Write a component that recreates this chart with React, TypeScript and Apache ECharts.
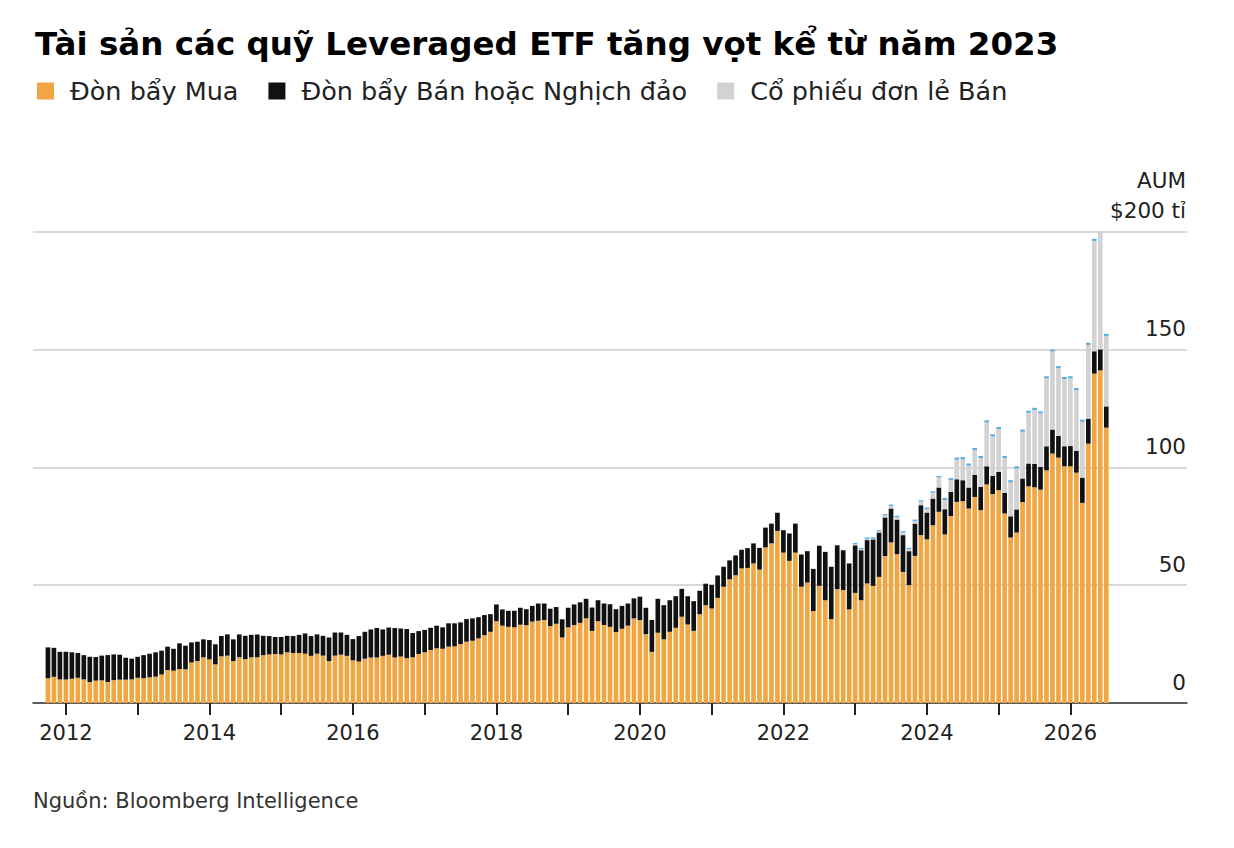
import React, { useEffect, useRef } from "react";
import * as echarts from "echarts";

// Monthly categories: Aug 2011 .. Aug 2027 (bars run Oct 2011 .. Jul 2026)
const START_YEAR = 2011;
const START_MONTH = 8;
const MONTH_COUNT = 193;
const LEAD_EMPTY = 2; // Aug, Sep 2011

const months: string[] = [];
for (let i = 0; i < MONTH_COUNT; i++) {
  const m0 = START_MONTH - 1 + i;
  const y = START_YEAR + Math.floor(m0 / 12);
  const m = (m0 % 12) + 1;
  months.push(`${y}-${m < 10 ? "0" + m : m}`);
}

// Đòn bẩy Mua (leveraged long), $bn, Oct 2011 .. Jul 2026
const leveragedLong: number[] = [
  10.5, 11.1, 10.0, // 2011 Oct-Dec
  10.0, 10.3, 10.7, 10.0, 8.9, 9.5, 9.6, 8.9, 9.7, 9.9, 9.9, 10.0, // 2012
  10.7, 10.5, 10.9, 11.2, 12.1, 14.0, 13.7, 14.4, 14.3, 17.2, 17.8, 19.4, // 2013
  18.5, 16.4, 19.8, 20.1, 17.8, 19.4, 18.6, 19.4, 19.4, 20.3, 20.6, 20.8, // 2014
  20.6, 21.5, 21.2, 21.2, 20.9, 20.0, 20.9, 20.1, 17.8, 20.1, 20.5, 20.0, // 2015
  18.1, 17.6, 18.8, 19.3, 19.3, 20.0, 20.5, 19.3, 19.7, 19.0, 19.4, 20.8, // 2016
  21.5, 22.5, 23.2, 23.0, 23.9, 24.0, 25.0, 26.0, 26.4, 27.4, 28.8, 30.2, // 2017
  34.7, 32.8, 32.3, 32.1, 33.2, 33.0, 34.5, 34.9, 35.2, 32.6, 33.6, 27.8, // 2018
  32.1, 33.1, 34.0, 35.9, 30.6, 34.7, 33.1, 32.3, 30.1, 31.5, 32.8, 35.9, // 2019
  35.2, 29.2, 21.7, 29.8, 27.0, 30.2, 31.9, 36.6, 33.3, 30.6, 37.7, 41.5, // 2020
  40.1, 44.6, 49.3, 52.5, 54.2, 57.1, 57.3, 59.2, 56.6, 66.0, 67.7, 73.0, // 2021
  63.8, 60.3, 63.8, 49.3, 51.1, 39.0, 49.7, 43.6, 35.6, 48.3, 47.9, 39.7, // 2022
  46.7, 43.6, 50.7, 49.7, 53.5, 62.3, 68.1, 63.1, 55.6, 50.0, 62.4, 71.2, // 2023
  69.4, 75.4, 81.1, 71.5, 79.3, 85.3, 85.6, 82.5, 87.4, 81.8, 92.7, 88.6, // 2024
  90.3, 80.4, 70.2, 72.3, 85.3, 91.9, 91.5, 90.5, 98.7, 105.8, 104.1, 100.4, // 2025
  100.4, 97.7, 84.9, 110.0, 139.7, 141.1, 116.8, // 2026 Jan-Jul
];

// Đòn bẩy Bán hoặc Nghịch đảo (leveraged short / inverse), Oct 2011 .. Jul 2026
const leveragedShort: number[] = [
  13.1, 12.3, 11.7,
  11.7, 11.2, 10.5, 10.3, 10.7, 10.0, 10.5, 11.4, 10.9, 10.6, 9.3, 8.8,
  8.9, 9.8, 10.0, 10.3, 10.1, 9.9, 9.3, 10.9, 10.0, 8.5, 8.2, 7.6,
  8.2, 8.5, 8.6, 9.0, 9.2, 9.7, 9.9, 9.5, 9.7, 8.2, 7.8, 7.2,
  7.4, 7.0, 7.2, 7.7, 8.6, 8.4, 8.2, 8.4, 10.0, 9.8, 9.4, 8.9,
  9.0, 10.8, 11.4, 11.9, 12.5, 11.2, 11.5, 12.5, 11.9, 12.4, 10.3, 9.7,
  9.5, 9.4, 9.6, 9.1, 9.9, 9.8, 9.2, 9.6, 9.5, 9.0, 8.5, 7.5,
  7.1, 6.9, 6.8, 7.0, 7.2, 6.8, 6.7, 7.3, 7.0, 7.4, 7.1, 7.7,
  8.3, 8.7, 8.7, 8.3, 9.9, 8.9, 9.1, 9.6, 9.7, 9.7, 9.4, 8.5,
  9.9, 11.2, 13.5, 14.4, 14.5, 13.4, 13.4, 11.8, 12.0, 12.6, 9.9, 9.1,
  10.0, 9.5, 8.5, 8.0, 8.4, 7.9, 8.4, 8.5, 9.2, 8.4, 8.4, 7.7,
  9.5, 11.6, 12.3, 13.7, 13.3, 17.9, 17.0, 20.5, 22.2, 18.6, 16.9, 19.5,
  20.2, 21.2, 18.4, 19.7, 18.8, 16.4, 14.4, 14.7, 15.6, 14.4, 13.7, 12.7,
  11.4, 11.3, 10.3, 10.7, 10.2, 9.6, 8.9, 8.9, 9.3, 9.9, 7.7, 7.7,
  7.7, 8.7, 9.0, 9.8, 9.9, 9.7, 9.9, 9.6, 10.2, 10.2, 9.2, 8.5,
  8.6, 9.2, 10.7, 10.6, 9.5, 8.9, 9.0,
];

// Cổ phiếu đơn lẻ Bán (single-stock), Jan 2023 .. Jul 2026
const singleStock: number[] = [
  0.4, 0.4, 0.5, 0.3, 0.4, 0.8, 1.1, 1.0, 1.1, 0.8, 1.1, 1.5, // 2023
  1.5, 2.5, 4.3, 3.9, 5.0, 8.3, 8.9, 9.3, 10.6, 12.2, 18.6, 16.8, // 2024
  18.2, 14.8, 14.4, 17.4, 19.9, 21.5, 22.9, 22.7, 28.8, 33.1, 28.7, 28.5, // 2025
  28.7, 25.8, 23.7, 31.3, 46.8, 50.7, 29.9, // 2026
];

// Thin blue cap on top (unlabelled in legend), Jan 2023 .. Jul 2026
const topCap: number[] = [
  0.6, 0.6, 0.6, 0.6, 0.6, 0.6, 0.6, 0.6, 0.6, 0.6, 0.6, 0.6,
  0.6, 0.6, 0.6, 0.9, 0.9, 0.9, 0.9, 0.9, 0.9, 0.9, 0.9, 0.9,
  0.9, 0.9, 0.9, 0.9, 0.9, 0.9, 0.9, 0.9, 0.9, 0.9, 0.9, 0.9,
  0.9, 0.9, 0.9, 0.9, 0.9, 0.9, 0.9,
];

const Y_TICKS = [0, 50, 100, 150, 200];
const SERIES_NAMES = ["Đòn bẩy Mua", "Đòn bẩy Bán hoặc Nghịch đảo", "Cổ phiếu đơn lẻ Bán"];
const CAP_NAME = "Cổ phiếu đơn lẻ Mua";

const FONT = "DejaVu Sans";

function pad(values: number[], lead: number): (number | null)[] {
  const out: (number | null)[] = [];
  for (let i = 0; i < lead; i++) out.push(null);
  for (const v of values) out.push(v);
  while (out.length < MONTH_COUNT) out.push(null);
  return out;
}

export default function App() {
  const ref = useRef<HTMLDivElement>(null);

  useEffect(() => {
    if (!ref.current) return;
    const chart = echarts.init(ref.current, undefined, { renderer: "svg" });
    const lateLead = LEAD_EMPTY + leveragedLong.length - singleStock.length;
    const lastBarIndex = LEAD_EMPTY + leveragedLong.length - 1;

    const barCommon = {
      type: "bar" as const,
      stack: "aum",
      barCategoryGap: "22%",
      emphasis: { disabled: true },
    };

    chart.setOption({
      animation: false,
      backgroundColor: "#ffffff",
      title: {
        text: "Tài sản các quỹ Leveraged ETF tăng vọt kể từ năm 2023",
        left: 35,
        top: 27,
        padding: 0,
        textStyle: {
          fontFamily: FONT,
          fontWeight: "bold",
          fontSize: 32.5,
          color: "#000000",
        },
      },
      legend: {
        data: SERIES_NAMES,
        left: 37,
        top: 78,
        padding: 0,
        itemWidth: 17,
        itemHeight: 17,
        itemGap: 30,
        icon: "rect",
        selectedMode: false,
        textStyle: {
          fontFamily: FONT,
          fontSize: 25.5,
          color: "#222222",
          padding: [0, 0, 0, 11],
        },
      },
      graphic: [
        {
          type: "text",
          left: 33,
          top: 790,
          style: {
            text: "Nguồn: Bloomberg Intelligence",
            fontFamily: FONT,
            fontSize: 21,
            fill: "#333333",
          },
        },
      ],
      grid: {
        left: 33,
        right: 47,
        top: 231.5,
        bottom: 145,
        containLabel: false,
      },
      xAxis: {
        type: "category",
        data: months,
        boundaryGap: true,
        axisLine: { show: true, lineStyle: { color: "#333333", width: 1.5 } },
        axisTick: {
          show: true,
          alignWithLabel: true,
          length: 12,
          lineStyle: { color: "#222222", width: 2 },
          interval: (i: number, v: string) => v.endsWith("-01") && i <= lastBarIndex,
        },
        axisLabel: {
          interval: (i: number, v: string) =>
            v.endsWith("-01") && i <= lastBarIndex && parseInt(v.slice(0, 4), 10) % 2 === 0,
          formatter: (v: string) => v.slice(0, 4),
          fontFamily: FONT,
          fontSize: 21,
          color: "#222222",
          margin: 19,
          lineHeight: 21,
        },
        splitLine: { show: false },
      },
      yAxis: {
        type: "value",
        position: "right",
        min: 0,
        max: 200,
        interval: 50,
        axisLine: { show: false },
        axisTick: { show: false },
        splitLine: { show: true, lineStyle: { color: "#cccccc", width: 1.5 } },
        axisLabel: {
          inside: true,
          margin: 1,
          verticalAlign: "bottom",
          lineHeight: 30,
          padding: [0, 0, 6, 0],
          fontFamily: FONT,
          fontSize: 21.5,
          color: "#222222",
          customValues: Y_TICKS,
          formatter: (v: number) => (v === 200 ? "AUM\n$200 tỉ" : String(v)),
        },
      },
      series: [
        {
          ...barCommon,
          name: SERIES_NAMES[0],
          data: pad(leveragedLong, LEAD_EMPTY),
          itemStyle: { color: "#F0A743" },
        },
        {
          ...barCommon,
          name: SERIES_NAMES[1],
          data: pad(leveragedShort, LEAD_EMPTY),
          itemStyle: { color: "#111111" },
        },
        {
          ...barCommon,
          name: SERIES_NAMES[2],
          data: pad(singleStock, lateLead),
          itemStyle: { color: "#D2D2D2" },
        },
        {
          ...barCommon,
          name: CAP_NAME,
          data: pad(topCap, lateLead),
          itemStyle: { color: "#5AAEE3" },
        },
      ],
    });

    return () => chart.dispose();
  }, []);

  return (
    <div
      ref={ref}
      style={{ position: "absolute", left: 0, top: 0, width: 1234, height: 848 }}
    />
  );
}
